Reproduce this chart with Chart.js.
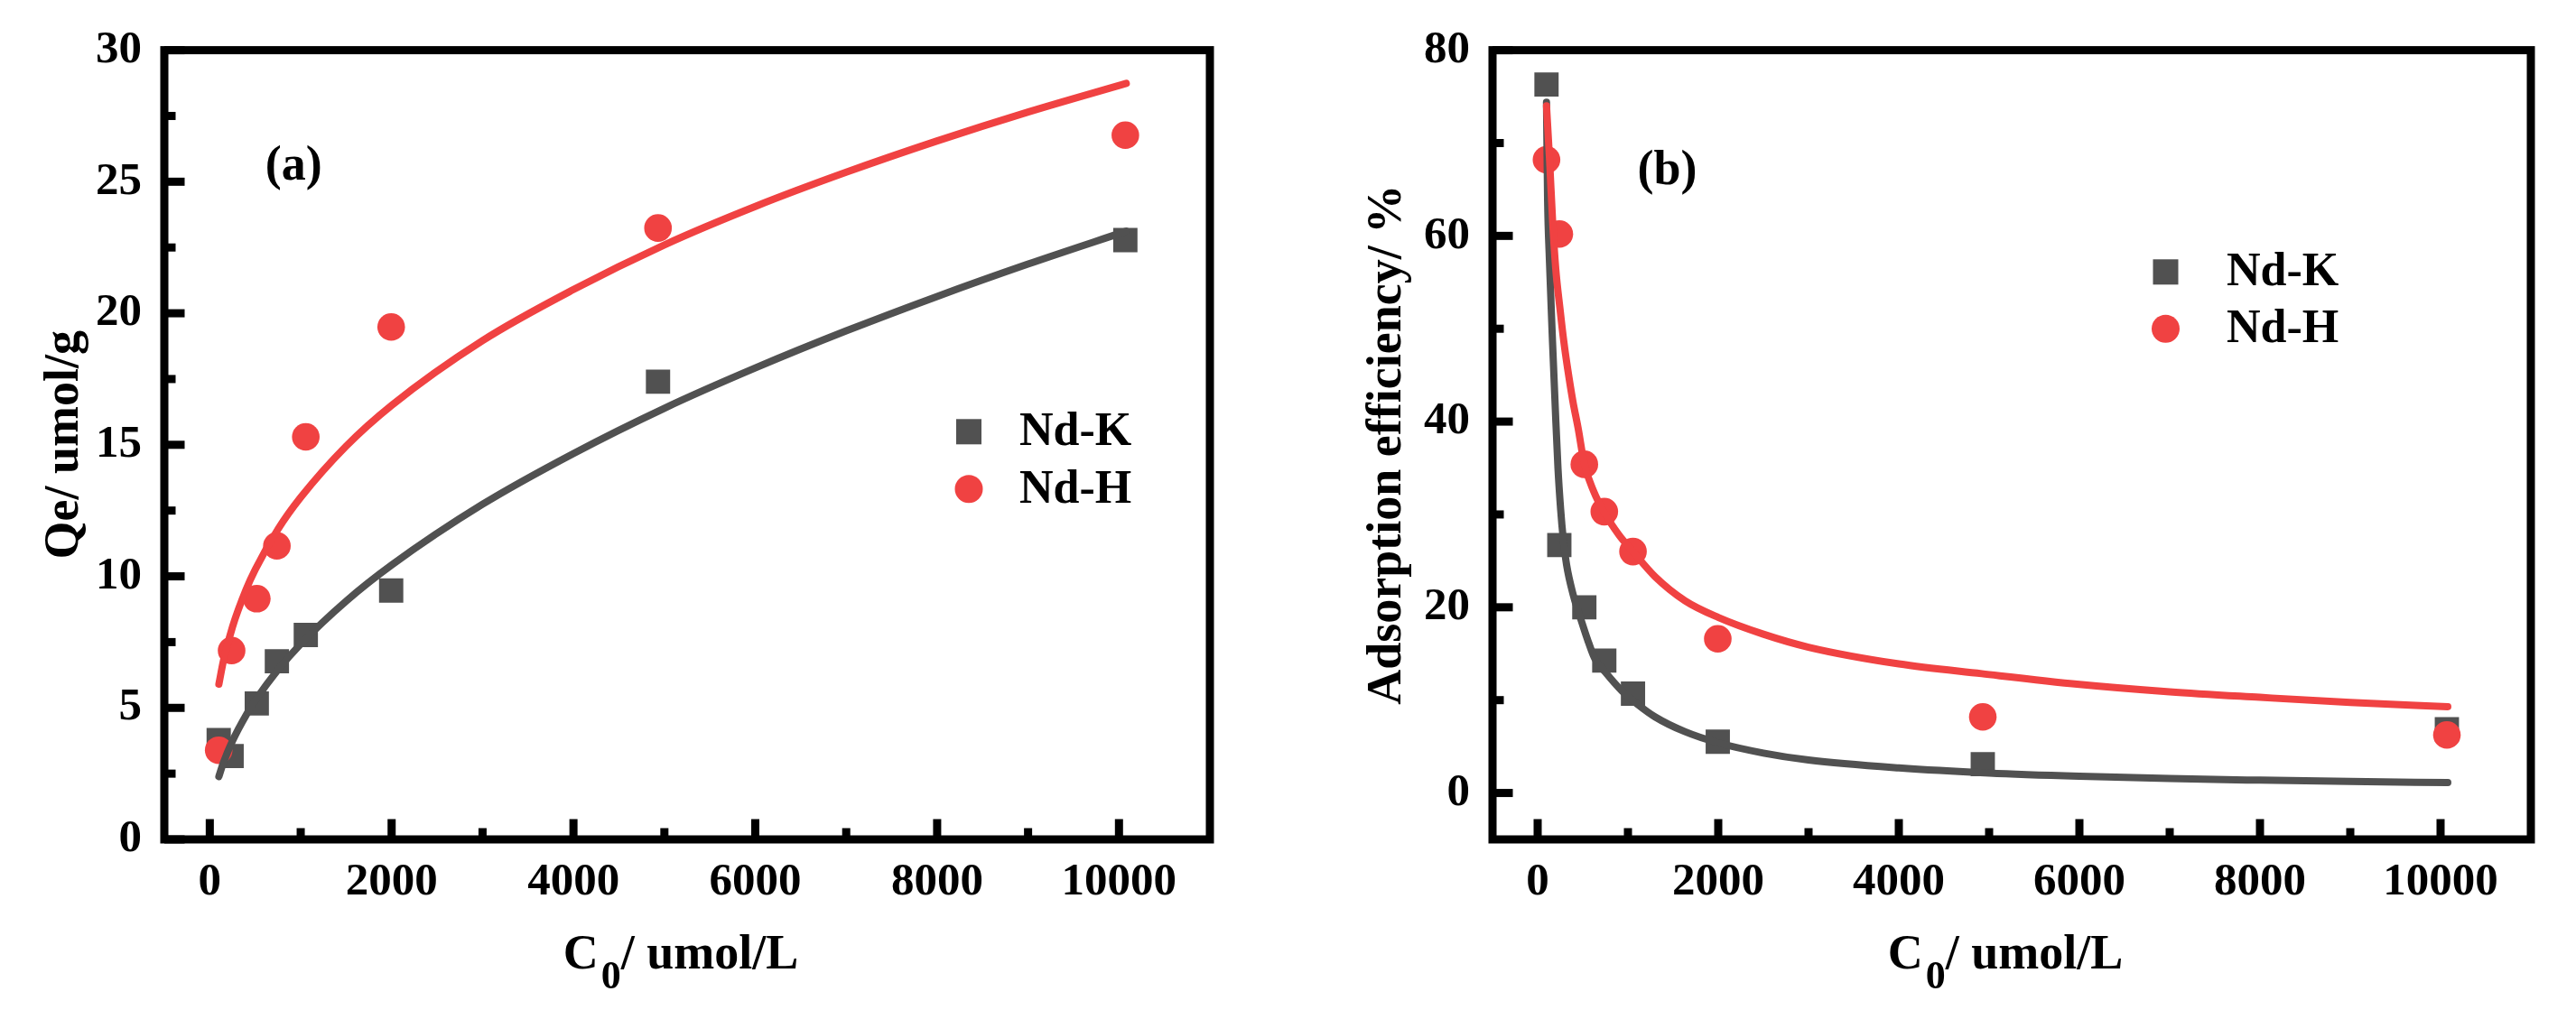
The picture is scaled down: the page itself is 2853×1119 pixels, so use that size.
<!DOCTYPE html>
<html><head><meta charset="utf-8">
<script src="https://cdn.jsdelivr.net/npm/chart.js@4.4.1/dist/chart.umd.min.js"></script>
<style>
html,body{margin:0;padding:0;background:#fff;overflow:hidden;width:2853px;height:1119px}
canvas{position:absolute;top:0}
#ca{left:0}
#cb{left:1420px}
</style></head>
<body>
<canvas id="ca" width="1420" height="1119"></canvas>
<canvas id="cb" width="1433" height="1119"></canvas>
<script>
// ---------- data ----------
const C0 = [98, 240, 517, 738, 1056, 1995, 4930, 10070];
const qeNdK = [3.78, 3.17, 5.17, 6.77, 7.77, 9.46, 17.4, 22.78];
const qeNdH = [3.39, 7.18, 9.15, 11.16, 15.3, 19.48, 23.24, 26.77];
const effNdK = [76.3, 26.7, 20.0, 14.26, 10.7, 5.52, 3.1, 6.86];
const effNdH = [68.2, 60.2, 35.4, 30.3, 26.0, 16.6, 8.2, 6.25];

const fitQeX = [100, 150, 250, 400, 500, 750, 1000, 1500, 2000, 3000, 4000, 5000, 6000, 7000, 8000, 9000, 10080];
const fitQeNdK = [2.39, 2.92, 3.75, 4.73, 5.28, 6.45, 7.43, 9.06, 10.43, 12.74, 14.67, 16.39, 17.92, 19.33, 20.64, 21.87, 23.12];
const fitQeNdH = [5.90, 6.79, 8.08, 9.50, 10.26, 11.79, 13.0, 14.95, 16.5, 18.96, 20.9, 22.6, 24.06, 25.36, 26.55, 27.65, 28.74];

const fitEffNdKX = [98, 110, 130, 165, 195, 225, 255, 282, 320, 395, 448, 482, 550, 632, 750, 932, 1100, 1300, 1632, 2000, 2500, 3000, 4000, 5000, 6000, 7000, 8000, 9000, 10080];
const fitEffNdK = [74.4, 64, 57.5, 48.5, 41.5, 35, 30.5, 27.5, 24.6, 21.3, 19.6, 18.6, 16.6, 14.5, 13.0, 11.0, 9.6, 8.2, 6.6, 5.4, 4.3, 3.55, 2.7, 2.15, 1.8, 1.55, 1.38, 1.24, 1.12];
const fitEffNdHX = [98, 133, 165, 200, 248, 290, 332, 390, 448, 518, 620, 738, 900, 1055, 1300, 1632, 2002, 2500, 3000, 4000, 4918, 6000, 7000, 8000, 9000, 10080];
const fitEffNdH = [74, 68, 61.7, 56.5, 52.1, 48.6, 45.7, 42.2, 39.3, 35.4, 32.5, 30.2, 27.8, 26.0, 23.3, 20.7, 18.9, 17.1, 15.7, 13.9, 12.85, 11.7, 10.9, 10.3, 9.75, 9.3];

const xTicks = [0, 2000, 4000, 6000, 8000, 10000];
const xMinor = [1000, 3000, 5000, 7000, 9000];
const yTicksA = [0, 5, 10, 15, 20, 25, 30];
const yMinorA = [2.5, 7.5, 12.5, 17.5, 22.5, 27.5];
const yTicksB = [0, 20, 40, 60, 80];
const yMinorB = [10, 30, 50, 70];
const seriesNames = ['Nd-K', 'Nd-H'];

// ---------- styling ----------
const GRAY = '#515151';
const RED = '#F04242';
const FAM = "'Liberation Serif', 'Times New Roman', serif";

function zip(xs, ys) { return xs.map((x, i) => ({x: x, y: ys[i]})); }

function decorPlugin(cfg) {
  return {
    id: 'decor',
    afterDatasetsDraw(chart) {
      const {ctx, chartArea: a, scales: {x, y}} = chart;
      ctx.save();
      ctx.strokeStyle = '#000';
      ctx.lineWidth = 9;
      ctx.lineCap = 'butt';
      const seg = (x1, y1, x2, y2) => { ctx.beginPath(); ctx.moveTo(x1, y1); ctx.lineTo(x2, y2); ctx.stroke(); };
      xTicks.forEach(v => { const p = x.getPixelForValue(v); seg(p, a.bottom, p, a.bottom - 22.5); });
      xMinor.forEach(v => { const p = x.getPixelForValue(v); seg(p, a.bottom, p, a.bottom - 12.5); });
      cfg.yMajor.forEach(v => { const p = y.getPixelForValue(v); seg(a.left, p, a.left + 22.5, p); });
      cfg.yMinor.forEach(v => { const p = y.getPixelForValue(v); seg(a.left, p, a.left + 12.5, p); });
      ctx.lineJoin = 'miter';
      ctx.strokeRect(a.left, a.top, a.right - a.left, a.bottom - a.top);
      ctx.restore();
    },
    afterDraw(chart) {
      const {ctx, chartArea: a, scales: {x, y}} = chart;
      ctx.save();
      ctx.fillStyle = '#000';
      ctx.textBaseline = 'alphabetic';
      ctx.textAlign = 'left';
      // x-axis title with subscript
      const big = 'bold 54px ' + FAM, small = 'bold 44px ' + FAM;
      ctx.font = big; const w1 = ctx.measureText('C').width + 3;
      ctx.font = small; const w2 = ctx.measureText('0').width;
      ctx.font = big; const w3 = ctx.measureText('/ umol/L').width;
      let sx = (a.left + a.right) / 2 - 7 - (w1 + w2 + w3) / 2;
      const base = 1073;
      ctx.font = big; ctx.fillText('C', sx, base);
      ctx.font = small; ctx.fillText('0', sx + w1, base + 22);
      ctx.font = big; ctx.fillText('/ umol/L', sx + w1 + w2, base);
      // panel label
      ctx.font = 'bold 54px ' + FAM;
      ctx.fillText(cfg.panel, x.getPixelForValue(cfg.panelAt[0]), y.getPixelForValue(cfg.panelAt[1]));
      // legend
      const lg = cfg.legend;
      ctx.fillStyle = GRAY;
      ctx.fillRect(lg.x - 14, lg.y - 14, 28, 28);
      ctx.fillStyle = RED;
      ctx.beginPath(); ctx.arc(lg.x, lg.y + lg.dy, 15.5, 0, Math.PI * 2); ctx.fill();
      ctx.fillStyle = '#000';
      ctx.font = 'bold 52px ' + FAM;
      ctx.fillText(seriesNames[0], lg.x + lg.tx, lg.y + 15);
      ctx.fillText(seriesNames[1], lg.x + lg.tx, lg.y + lg.dy + 15);
      ctx.restore();
    }
  };
}

function makeChart(id, cfg) {
  const tickFont = {family: FAM, size: 51, weight: 'bold', lineHeight: 1.2};
  return new Chart(document.getElementById(id), {
    type: 'scatter',
    data: {datasets: [
      {label: 'Nd-H fit', data: zip(cfg.fitHX, cfg.fitH), showLine: true, pointRadius: 0, borderColor: RED, borderWidth: 8,
       cubicInterpolationMode: 'monotone', borderCapStyle: 'round', order: 0},
      {label: 'Nd-K fit', data: zip(cfg.fitKX, cfg.fitK), showLine: true, pointRadius: 0, borderColor: GRAY, borderWidth: 8,
       cubicInterpolationMode: 'monotone', borderCapStyle: 'round', order: 1},
      {label: seriesNames[1], data: zip(C0, cfg.h), pointStyle: 'circle', pointRadius: 15.3, pointBackgroundColor: RED,
       pointBorderWidth: 0, pointBorderColor: RED, order: 2},
      {label: seriesNames[0], data: zip(C0, cfg.k), pointStyle: 'rect', pointRadius: 19, pointBackgroundColor: GRAY,
       pointBorderWidth: 0, pointBorderColor: GRAY, order: 3}
    ]},
    options: {
      responsive: false, animation: false, devicePixelRatio: 1,
      layout: {padding: {left: 0, right: cfg.padRight, top: 39, bottom: 0}},
      plugins: {legend: {display: false}, tooltip: {enabled: false}},
      scales: {
        x: {type: 'linear', min: -500, max: 11000,
            afterBuildTicks: s => { s.ticks = xTicks.map(v => ({value: v})); },
            afterFit: s => { s.height = 189; },
            grid: {display: false, drawTicks: false}, border: {display: false},
            ticks: {font: tickFont, color: '#000', padding: 17, maxRotation: 0, autoSkip: false, callback: v => String(v)}},
        y: {type: 'linear', min: cfg.yMin, max: cfg.yMax,
            afterBuildTicks: s => { s.ticks = cfg.yMajor.map(v => ({value: v})); },
            afterFit: s => { s.width = cfg.yWidth; },
            grid: {display: false, drawTicks: false}, border: {display: false},
            ticks: {font: tickFont, color: '#000', padding: 25, autoSkip: false, callback: v => String(v)},
            title: {display: true, text: cfg.yTitle, color: '#000',
                    font: {family: FAM, size: 54, weight: 'bold', lineHeight: 1.2},
                    padding: {top: cfg.titlePad, bottom: 0}}}
      }
    },
    plugins: [decorPlugin(cfg)]
  });
}

makeChart('ca', {
  k: qeNdK, h: qeNdH, fitKX: fitQeX, fitK: fitQeNdK, fitHX: fitQeX, fitH: fitQeNdH,
  yMin: 0, yMax: 30, yMajor: yTicksA, yMinor: yMinorA, yWidth: 182, padRight: 80,
  yTitle: 'Qe/ umol/g', titlePad: 40, panel: '(a)', panelAt: [611, 25.08],
  legend: {x: 1073, y: 478.3, dy: 63.4, tx: 56}
});
makeChart('cb', {
  k: effNdK, h: effNdH, fitKX: fitEffNdKX, fitK: fitEffNdK, fitHX: fitEffNdHX, fitH: fitEffNdH,
  yMin: -5, yMax: 80, yMajor: yTicksB, yMinor: yMinorB, yWidth: 233, padRight: 50,
  yTitle: 'Adsorption efficiency/ %', titlePad: 85, panel: '(b)', panelAt: [1105, 65.6],
  legend: {x: 978.5, y: 301.3, dy: 63, tx: 67.5}
});
</script>
</body></html>
